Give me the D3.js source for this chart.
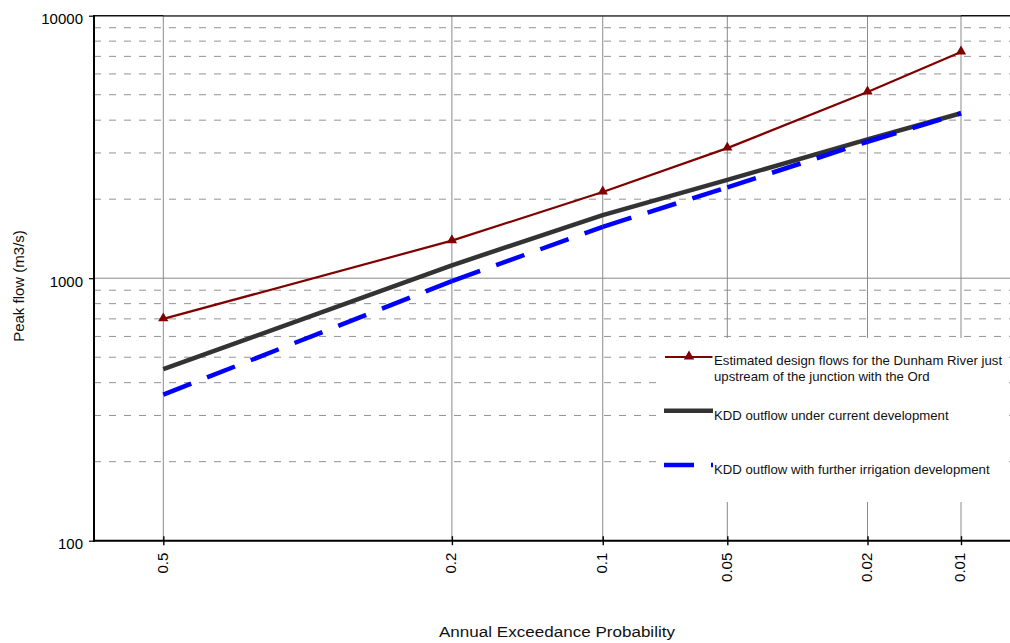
<!DOCTYPE html>
<html>
<head>
<meta charset="utf-8">
<script src="https://cdn.jsdelivr.net/npm/d3@7"></script>
<style>
  body { margin: 0; background: #fff; }
  svg { display: block; font-family: Arial, "Liberation Sans", sans-serif; }
</style>
</head>
<body>
<div id="chart"></div>
<script>
// annual exceedance probabilities on the x axis
const aep = [0.5, 0.2, 0.1, 0.05, 0.02, 0.01];
const aepLabels = ["0.5", "0.2", "0.1", "0.05", "0.02", "0.01"];

// peak flows (m3/s)
const dunhamFlow = [700, 1390, 2130, 3130, 5120, 7270];
const kddCurrent = [450, 1120, 1740, 2370, 3380, 4250];
const kddFurther = [360, 975, 1570, 2220, 3310, 4250];

const yTicks = [100, 1000, 10000];
const yMinorGrid = [200, 300, 400, 500, 600, 700, 800, 900, 2000, 3000, 4000, 5000, 6000, 7000, 8000, 9000];

const legendLabels = [
    ["Estimated design flows for the Dunham River just", "upstream of the junction with the Ord"],
    ["KDD outflow under current development"],
    ["KDD outflow with further irrigation development"]
];

// inverse standard normal (Acklam) - used for the probability paper x axis
function normInv(p) {
    const a = [-3.969683028665376e+01, 2.209460984245205e+02, -2.759285104469687e+02, 1.383577518672690e+02, -3.066479806614716e+01, 2.506628277459239e+00];
    const b = [-5.447609879822406e+01, 1.615858368580409e+02, -1.556989798598866e+02, 6.680131188771972e+01, -1.328068155288572e+01];
    const c = [-7.784894002430293e-03, -3.223964580411365e-01, -2.400758277161838e+00, -2.549732539343734e+00, 4.374664141464968e+00, 2.938163982698783e+00];
    const d = [7.784695709041462e-03, 3.224671290700398e-01, 2.445134137142996e+00, 3.754408661907416e+00];
    const plow = 0.02425;
    let q, r;
    if (p < plow) {
        q = Math.sqrt(-2 * Math.log(p));
        return (((((c[0]*q+c[1])*q+c[2])*q+c[3])*q+c[4])*q+c[5]) / ((((d[0]*q+d[1])*q+d[2])*q+d[3])*q+1);
    }
    if (p <= 1 - plow) {
        q = p - 0.5; r = q * q;
        return (((((a[0]*r+a[1])*r+a[2])*r+a[3])*r+a[4])*r+a[5])*q / (((((b[0]*r+b[1])*r+b[2])*r+b[3])*r+b[4])*r+1);
    }
    q = Math.sqrt(-2 * Math.log(1 - p));
    return -(((((c[0]*q+c[1])*q+c[2])*q+c[3])*q+c[4])*q+c[5]) / ((((d[0]*q+d[1])*q+d[2])*q+d[3])*q+1);
}
const zOf = p => normInv(1 - p);

const W = 1010, H = 643;
const plotLeft = 94, plotRight = 1010, plotTop = 15.7, plotBottom = 540.7;

const x = d3.scaleLinear().domain([zOf(0.5), zOf(0.01)]).range([163.3, 961]);
const y = d3.scaleLog().domain([100, 10000]).range([plotBottom, plotTop]);

const svg = d3.select("#chart").append("svg").attr("width", W).attr("height", H);

// horizontal grid
svg.append("g").selectAll("line")
    .data(yMinorGrid)
    .enter().append("line")
    .attr("x1", plotLeft).attr("x2", plotRight)
    .attr("y1", d => y(d)).attr("y2", d => y(d))
    .attr("stroke", "#939393").attr("stroke-width", 1)
    .attr("stroke-dasharray", "7,8");

svg.append("line")
    .attr("x1", plotLeft).attr("x2", plotRight)
    .attr("y1", y(1000)).attr("y2", y(1000))
    .attr("stroke", "#8a8a8a").attr("stroke-width", 1);

// vertical grid
svg.append("g").selectAll("line")
    .data(aep)
    .enter().append("line")
    .attr("x1", d => x(zOf(d))).attr("x2", d => x(zOf(d)))
    .attr("y1", plotTop).attr("y2", plotBottom)
    .attr("stroke", "#8a8a8a").attr("stroke-width", 1);

// frame
svg.append("line").attr("x1", plotLeft).attr("x2", plotRight).attr("y1", plotTop).attr("y2", plotTop)
    .attr("stroke", "#111").attr("stroke-width", 1.6);
svg.append("line").attr("x1", x(zOf(0.5))).attr("x2", x(zOf(0.01))).attr("y1", plotTop).attr("y2", plotTop)
    .attr("stroke", "#5a5a5a").attr("stroke-width", 1.6);

// y axis
const yAxis = svg.append("g")
    .attr("transform", `translate(${plotLeft},0)`)
    .call(d3.axisLeft(y).tickValues(yTicks).tickSize(5).tickSizeOuter(0).tickFormat(d3.format("d")));
yAxis.select(".domain").remove();
yAxis.selectAll(".tick line").attr("stroke", "#000").attr("stroke-width", 1.2);
yAxis.selectAll(".tick text")
    .attr("x", -11).attr("dy", "0.55em")
    .attr("font-size", 15).attr("font-family", "Arial, 'Liberation Sans', sans-serif")
    .attr("fill", "#000");
svg.append("line").attr("x1", plotLeft).attr("x2", plotLeft).attr("y1", plotTop - 0.8).attr("y2", plotBottom + 1)
    .attr("stroke", "#000").attr("stroke-width", 2);

// x axis
const xAxis = svg.append("g")
    .attr("transform", `translate(0,${plotBottom})`)
    .call(d3.axisBottom(x).tickValues(aep.map(zOf)).tickFormat((d, i) => aepLabels[i]).tickSizeOuter(0));
xAxis.select(".domain").remove();
xAxis.selectAll(".tick line").attr("y1", -4.5).attr("y2", 4.5).attr("stroke", "#000").attr("stroke-width", 1.4);
xAxis.selectAll(".tick text")
    .attr("transform", "translate(0,12) rotate(-90)")
    .attr("x", 0).attr("y", 0).attr("dy", "0.25em")
    .attr("text-anchor", "end")
    .attr("font-size", 15).attr("font-family", "Arial, 'Liberation Sans', sans-serif")
    .attr("fill", "#000");
svg.append("line").attr("x1", plotLeft - 1).attr("x2", plotRight).attr("y1", plotBottom).attr("y2", plotBottom)
    .attr("stroke", "#000").attr("stroke-width", 2);

// axis titles
svg.append("text")
    .attr("x", 557).attr("y", 637)
    .attr("text-anchor", "middle").attr("font-size", 15.5)
    .attr("textLength", 236).attr("lengthAdjust", "spacingAndGlyphs")
    .attr("fill", "#111")
    .text("Annual Exceedance Probability");
svg.append("text")
    .attr("transform", "translate(24,286) rotate(-90)")
    .attr("text-anchor", "middle").attr("font-size", 15)
    .attr("fill", "#111")
    .text("Peak flow (m3/s)");

// series
const pts = vals => vals.map((v, i) => [x(zOf(aep[i])), y(v)]);
const line = d3.line();

svg.append("path")
    .attr("d", line(pts(dunhamFlow)))
    .attr("fill", "none").attr("stroke", "#800000").attr("stroke-width", 2.2)
    .attr("stroke-linejoin", "round");

svg.append("path")
    .attr("d", line(pts(kddCurrent)))
    .attr("fill", "none").attr("stroke", "#333333").attr("stroke-width", 4.5)
    .attr("stroke-linejoin", "round");

// dashed series is drawn segment by segment (dash pattern restarts at each point)
const further = pts(kddFurther);
svg.append("g").selectAll("path")
    .data(d3.pairs(further))
    .enter().append("path")
    .attr("d", d => line(d))
    .attr("fill", "none").attr("stroke", "#0000ff").attr("stroke-width", 4.5)
    .attr("stroke-dasharray", "30,17");

svg.append("g").selectAll("path")
    .data(pts(dunhamFlow))
    .enter().append("path")
    .attr("transform", d => `translate(${d[0]},${d[1] - 0.5})`)
    .attr("d", d3.symbol().type(d3.symbolTriangle).size(46))
    .attr("fill", "#800000");

// legend
const lg = svg.append("g");
lg.append("rect").attr("x", 656).attr("y", 338).attr("width", 349).attr("height", 164).attr("fill", "#fff");

const legendY = [357, 410.7, 465];
const textY = [365, 420, 473.5];

lg.append("line").attr("x1", 665).attr("x2", 712.5).attr("y1", legendY[0]).attr("y2", legendY[0])
    .attr("stroke", "#800000").attr("stroke-width", 2.2);
lg.append("path").attr("transform", `translate(689,${legendY[0] - 0.5})`)
    .attr("d", d3.symbol().type(d3.symbolTriangle).size(46)).attr("fill", "#800000");
lg.append("line").attr("x1", 664).attr("x2", 713).attr("y1", legendY[1]).attr("y2", legendY[1])
    .attr("stroke", "#333333").attr("stroke-width", 4.5);
lg.append("line").attr("x1", 664).attr("x2", 713).attr("y1", legendY[2]).attr("y2", legendY[2])
    .attr("stroke", "#0000ff").attr("stroke-width", 4.5).attr("stroke-dasharray", "30,17");

legendLabels.forEach((lines, i) => {
    const t = lg.append("text").attr("x", 714).attr("y", textY[i]).attr("font-size", 13.2).attr("fill", "#111");
    lines.forEach((s, j) => {
        t.append("tspan").attr("x", 714).attr("dy", j === 0 ? 0 : 15.5).text(s);
    });
});
</script>
</body>
</html>
